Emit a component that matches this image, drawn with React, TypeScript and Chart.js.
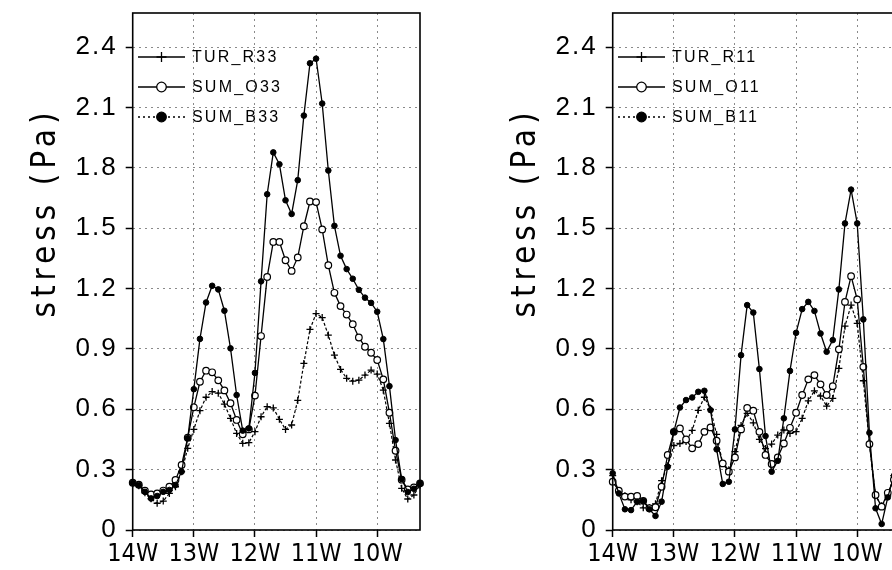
import React, { useEffect, useRef } from 'react';
import { Chart, registerables } from 'chart.js';

Chart.register(...registerables);

// Longitude (degrees, negative = West), 0.1 degree spacing
const lon = [
  -14.0, -13.9, -13.8, -13.7, -13.6, -13.5, -13.4, -13.3, -13.2, -13.1,
  -13.0, -12.9, -12.8, -12.7, -12.6, -12.5, -12.4, -12.3, -12.2, -12.1,
  -12.0, -11.9, -11.8, -11.7, -11.6, -11.5, -11.4, -11.3, -11.2, -11.1,
  -11.0, -10.9, -10.8, -10.7, -10.6, -10.5, -10.4, -10.3, -10.2, -10.1,
  -10.0, -9.9, -9.8, -9.7, -9.6, -9.5, -9.4, -9.3,
];

const xTickValues = [-14, -13, -12, -11, -10];
const xTickLabels = ['14W', '13W', '12W', '11W', '10W'];
const yTickValues = [0, 0.3, 0.6, 0.9, 1.2, 1.5, 1.8, 2.1, 2.4];
const yTickLabels = ['0', '0.3', '0.6', '0.9', '1.2', '1.5', '1.8', '2.1', '2.4'];

const turR33 = [
  0.23, 0.22, 0.185, 0.155, 0.133, 0.144, 0.182, 0.215, 0.29, 0.406,
  0.5, 0.593, 0.66, 0.688, 0.68, 0.626, 0.555, 0.48, 0.431, 0.434,
  0.489, 0.563, 0.613, 0.607, 0.55, 0.5, 0.522, 0.644, 0.828, 0.997,
  1.076, 1.056, 0.969, 0.869, 0.798, 0.754, 0.74, 0.745, 0.77, 0.795,
  0.775, 0.695, 0.53, 0.348, 0.207, 0.154, 0.174, 0.224,
];
const sumO33 = [
  0.235, 0.225, 0.195, 0.177, 0.182, 0.196, 0.215, 0.249, 0.323, 0.459,
  0.61, 0.737, 0.792, 0.784, 0.744, 0.694, 0.63, 0.547, 0.476, 0.5,
  0.668, 0.964, 1.258, 1.432, 1.432, 1.341, 1.288, 1.355, 1.51, 1.633,
  1.63, 1.494, 1.316, 1.179, 1.113, 1.071, 1.023, 0.957, 0.911, 0.881,
  0.845, 0.749, 0.583, 0.394, 0.25, 0.202, 0.212, 0.232,
];
const sumB33 = [
  0.235, 0.224, 0.19, 0.157, 0.169, 0.19, 0.199, 0.224, 0.29, 0.456,
  0.7, 0.95, 1.131, 1.214, 1.196, 1.09, 0.903, 0.671, 0.494, 0.505,
  0.781, 1.236, 1.669, 1.877, 1.818, 1.639, 1.571, 1.739, 2.06, 2.32,
  2.343, 2.12, 1.787, 1.512, 1.363, 1.297, 1.249, 1.194, 1.155, 1.129,
  1.085, 0.949, 0.715, 0.447, 0.253, 0.189, 0.205, 0.232,
];

const turR11 = [
  0.27, 0.19, 0.17, 0.15, 0.14, 0.11, 0.11, 0.13, 0.245, 0.32,
  0.42, 0.43, 0.44, 0.495, 0.595, 0.66, 0.6, 0.475, 0.33, 0.3,
  0.39, 0.52, 0.58, 0.533, 0.45, 0.405, 0.427, 0.472, 0.497, 0.48,
  0.489, 0.555, 0.642, 0.692, 0.666, 0.616, 0.654, 0.803, 1.013, 1.118,
  1.027, 0.742, 0.427, 0.17, 0.12, 0.17, 0.27, 0.3,
];
const sumO11 = [
  0.24, 0.195, 0.166, 0.166, 0.169, 0.145, 0.108, 0.113, 0.215, 0.373,
  0.488, 0.505, 0.45, 0.406, 0.427, 0.488, 0.51, 0.444, 0.331, 0.29,
  0.361, 0.5, 0.607, 0.593, 0.488, 0.373, 0.328, 0.361, 0.43, 0.508,
  0.583, 0.671, 0.749, 0.77, 0.724, 0.671, 0.715, 0.898, 1.134, 1.262,
  1.146, 0.811, 0.427, 0.174, 0.116, 0.185, 0.25, 0.28,
];
const sumB11 = [
  0.282, 0.182, 0.103, 0.099, 0.141, 0.144, 0.103, 0.07, 0.141, 0.315,
  0.488, 0.609, 0.646, 0.659, 0.687, 0.692, 0.596, 0.401, 0.229, 0.24,
  0.5, 0.869, 1.118, 1.081, 0.8, 0.467, 0.29, 0.344, 0.555, 0.791,
  0.98, 1.098, 1.134, 1.089, 0.977, 0.886, 0.944, 1.196, 1.524, 1.692,
  1.524, 1.047, 0.483, 0.108, 0.03, 0.162, 0.27, 0.29,
];

const yTitle = 'stress (Pa)';
const namesLeft = ['TUR_R33', 'SUM_O33', 'SUM_B33'];
const namesRight = ['TUR_R11', 'SUM_O11', 'SUM_B11'];

// canvas geometry
const CANVAS_W = 480;
const CANVAS_H = 610;
const TOP_SHIFT = 40; // canvas is lifted so the plot box starts near the page top
const PLOT_LEFT = 132.7;
const PLOT_RIGHT = 420;
const PLOT_TOP = 53;
const X_AXIS_H = 40;

const NARROW_FONT = '"DejaVu Sans Condensed", "Liberation Sans", sans-serif';
const Y_TICK_FONT = '"Liberation Sans", sans-serif';
const X_TICK_SPACING = '0px';
const Y_TICK_SPACING = '2px';

type MarkKind = 'cross' | 'open' | 'filled';
const markKinds: MarkKind[] = ['cross', 'open', 'filled'];
const legendDash: number[][] = [[], [], [2, 3]];

function drawMark(ctx: CanvasRenderingContext2D, kind: MarkKind, x: number, y: number, r: number) {
  ctx.save();
  ctx.setLineDash([]);
  ctx.strokeStyle = '#000';
  ctx.lineWidth = 1.3;
  if (kind === 'cross') {
    ctx.beginPath();
    ctx.moveTo(x - r, y);
    ctx.lineTo(x + r, y);
    ctx.moveTo(x, y - r);
    ctx.lineTo(x, y + r);
    ctx.stroke();
  } else {
    ctx.beginPath();
    ctx.arc(x, y, r, 0, Math.PI * 2);
    ctx.fillStyle = kind === 'open' ? '#fff' : '#000';
    ctx.fill();
    ctx.stroke();
  }
  ctx.restore();
}

const decorPlugin = {
  id: 'stressDecor',
  // x labels are drawn before the datasets, y labels (z = 1) after them
  beforeDraw(chart: any) {
    chart.ctx.letterSpacing = X_TICK_SPACING;
  },
  afterDatasetsDraw(chart: any) {
    chart.ctx.letterSpacing = Y_TICK_SPACING;
  },
  afterDraw(chart: any, _args: any, opts: any) {
    const ctx: CanvasRenderingContext2D = chart.ctx;
    const area = chart.chartArea;
    ctx.save();
    ctx.letterSpacing = '0px';
    // frame around the plot
    ctx.strokeStyle = '#000';
    ctx.lineWidth = 1.6;
    ctx.setLineDash([]);
    ctx.strokeRect(area.left, area.top, area.right - area.left, area.bottom - area.top);

    // y-axis title
    ctx.save();
    ctx.translate(46, 215 + TOP_SHIFT);
    ctx.rotate(-Math.PI / 2);
    ctx.font = '33px ' + NARROW_FONT;
    ctx.letterSpacing = '5px';
    ctx.fillStyle = '#000';
    ctx.textAlign = 'center';
    ctx.textBaseline = 'middle';
    ctx.fillText(yTitle, 2.5, 0);
    ctx.restore();

    // legend
    const names: string[] = opts.names;
    const rowY = [57, 87, 117];
    names.forEach((name, k) => {
      const y = rowY[k] + TOP_SHIFT;
      ctx.save();
      ctx.strokeStyle = '#000';
      ctx.lineWidth = 1.3;
      ctx.setLineDash(legendDash[k]);
      ctx.beginPath();
      ctx.moveTo(138, y);
      ctx.lineTo(185, y);
      ctx.stroke();
      ctx.restore();
      drawMark(ctx, markKinds[k], 161.5, y, k === 0 ? 5 : 4.8);
      ctx.save();
      ctx.font = '16px "Liberation Sans", sans-serif';
      ctx.letterSpacing = '2.2px';
      ctx.fillStyle = '#000';
      ctx.textAlign = 'left';
      ctx.textBaseline = 'middle';
      ctx.fillText(name, 192, y + 1);
      ctx.restore();
    });
    ctx.restore();
    ctx.letterSpacing = '0px';
  },
};

function makeConfig(names: string[], series: number[][]): any {
  const pts = (s: number[]) => lon.map((x, i) => ({ x, y: s[i] }));
  const gridOpts = {
    color: '#8a8a8a',
    lineWidth: 1,
    drawTicks: true,
    tickLength: 7,
    tickColor: '#000',
    tickWidth: 1.5,
    tickBorderDash: [],
  };
  return {
    type: 'line',
    data: {
      datasets: [
        {
          label: names[0],
          data: pts(series[0]),
          order: 3,
          borderColor: '#000',
          borderWidth: 1.2,
          borderDash: [3, 2],
          pointStyle: 'cross',
          pointRadius: 3.5,
          pointBorderWidth: 1.3,
          pointBorderColor: '#000',
          pointBackgroundColor: '#000',
          tension: 0,
          clip: false,
        },
        {
          label: names[1],
          data: pts(series[1]),
          order: 2,
          borderColor: '#000',
          borderWidth: 1.3,
          pointStyle: 'circle',
          pointRadius: 3.3,
          pointBorderWidth: 1.2,
          pointBorderColor: '#000',
          pointBackgroundColor: '#fff',
          tension: 0,
          clip: false,
        },
        {
          label: names[2],
          data: pts(series[2]),
          order: 1,
          borderColor: '#000',
          borderWidth: 1.3,
          pointStyle: 'circle',
          pointRadius: 2.8,
          pointBorderWidth: 1,
          pointBorderColor: '#000',
          pointBackgroundColor: '#000',
          tension: 0,
          clip: false,
        },
      ],
    },
    options: {
      responsive: false,
      animation: false,
      events: [],
      layout: { padding: { left: 0, right: CANVAS_W - PLOT_RIGHT, top: PLOT_TOP, bottom: 0 } },
      plugins: {
        legend: { display: false },
        tooltip: { enabled: false },
        stressDecor: { names },
      },
      scales: {
        x: {
          type: 'linear',
          min: -14,
          max: -9.3,
          afterBuildTicks: (s: any) => {
            s.ticks = xTickValues.map((v) => ({ value: v }));
          },
          afterFit: (s: any) => {
            s.height = X_AXIS_H;
          },
          ticks: {
            autoSkip: false,
            maxRotation: 0,
            padding: 2,
            color: '#000',
            font: { family: NARROW_FONT, size: 25 },
            callback: (v: number) => xTickLabels[xTickValues.indexOf(Math.round(v))],
          },
          grid: gridOpts,
          border: { display: false, dash: [2, 4] },
        },
        y: {
          type: 'linear',
          min: 0,
          max: 2.57,
          afterBuildTicks: (s: any) => {
            s.ticks = yTickValues.map((v) => ({ value: v }));
          },
          afterFit: (s: any) => {
            s.width = PLOT_LEFT;
          },
          ticks: {
            z: 1,
            padding: 8,
            color: '#000',
            font: { family: Y_TICK_FONT, size: 26 },
            callback: (v: number) => {
              const k = yTickValues.findIndex((t) => Math.abs(t - v) < 1e-6);
              return k >= 0 ? yTickLabels[k] : '';
            },
          },
          grid: gridOpts,
          border: { display: false, dash: [2, 4] },
        },
      },
    },
    plugins: [decorPlugin],
  };
}

function StressPanel({ left, names, series }: { left: number; names: string[]; series: number[][] }) {
  const ref = useRef<HTMLCanvasElement>(null);
  useEffect(() => {
    if (!ref.current) return;
    const chart = new Chart(ref.current, makeConfig(names, series));
    return () => chart.destroy();
  }, []);
  return (
    <div style={{ position: 'absolute', left, top: -TOP_SHIFT, width: CANVAS_W, height: CANVAS_H }}>
      <canvas
        ref={ref}
        width={CANVAS_W}
        height={CANVAS_H}
        style={{ width: CANVAS_W, height: CANVAS_H, display: 'block' }}
      />
    </div>
  );
}

export default function App() {
  return (
    <div
      style={{
        position: 'fixed',
        left: 0,
        top: 0,
        width: 892,
        height: 570,
        overflow: 'hidden',
        background: '#fff',
      }}
    >
      <StressPanel left={0} names={namesLeft} series={[turR33, sumO33, sumB33]} />
      <StressPanel left={480} names={namesRight} series={[turR11, sumO11, sumB11]} />
    </div>
  );
}
